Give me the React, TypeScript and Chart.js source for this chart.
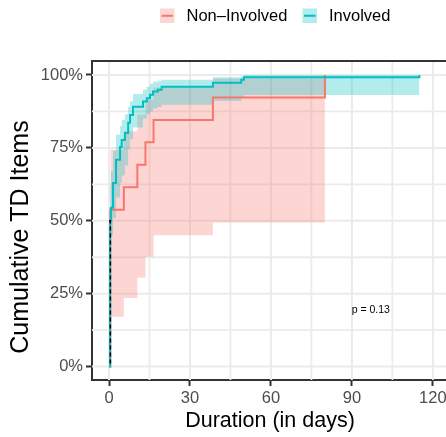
import React, { useEffect, useRef } from 'react';
import { Chart, registerables } from 'chart.js';
Chart.register(...registerables);

const FONT = '"Liberation Sans", Arial, Helvetica, sans-serif';
const RED = '#F8766D';
const TEAL = '#00BFC4';
const RED_FILL = 'rgba(248,118,109,0.3)';
const TEAL_FILL = 'rgba(0,191,196,0.3)';

const groupNames = ['Non–Involved', 'Involved'];
const xTitle = 'Duration (in days)';
const yTitle = 'Cumulative TD Items';
const pLabel = 'p = 0.13';
const pPos = [97, 19.2];

const xTicks = [0, 30, 60, 90, 120];
const xMinor = [15, 45, 75, 105];
const yTicks = [0, 25, 50, 75, 100];
const yMinor = [12.5, 37.5, 62.5, 87.5];

// Non-Involved group (cumulative % of items)
const redTimes = [0, 0.5, 5.5, 10.5, 13.5, 16.5, 38.5, 80];
const redCum = [0, 53.8, 61.5, 69.2, 76.9, 84.6, 92.3, 100];
const redBandTimes = [0.5, 5.5, 10.5, 13.5, 16.5, 38.5, 80];
const redLower = [17.1, 23.5, 30.5, 37.7, 45.0, 49.4, 49.4];
const redUpper = [74.4, 80.7, 86.4, 91.4, 95.7, 98.8, 98.8];

// Involved group
const tealTimes = [0, 0.4, 0.7, 1.5, 2.6, 4.1, 4.7, 5.9, 7.1, 7.8, 8.9, 12.6, 14, 15.2, 16.3, 18.1, 19.5, 38.5, 49, 50, 115];
const tealCum = [0, 50, 54.5, 63, 70.9, 75.3, 77.7, 80.1, 83.6, 86.3, 89.1, 90.9, 92, 93.2, 94.3, 94.9, 96, 97.3, 98.4, 99.2, 100];
const tealBandTimes = [0.4, 0.7, 1.5, 2.6, 4.1, 4.7, 5.9, 7.1, 7.8, 8.9, 12.6, 14, 15.2, 16.3, 18.1, 19.5, 38.5, 49, 50, 115];
const tealLower = [41, 45, 51, 58, 63, 65.5, 69, 74.5, 78, 82, 85, 86.5, 87.5, 88.5, 89, 89.8, 91.1, 92, 93.1, 93.1];
const tealUpper = [62, 67, 74, 79.5, 82.5, 84.6, 86.5, 89, 91, 93.5, 95, 96, 97, 97.7, 98, 98.4, 99.2, 99.6, 100, 100];

// median line
const medianTimes = [0, 0.5, 0.5];
const medianVals = [50, 50, 0];

const toPts = (xs: number[], ys: number[]) => xs.map((x, i) => ({ x, y: ys[i] }));

const decor = {
  id: 'decor',
  beforeDatasetsDraw(chart: any) {
    const { ctx, chartArea: a, scales } = chart;
    const x = scales.x, y = scales.y;
    ctx.save();
    ctx.beginPath();
    ctx.rect(a.left, a.top, a.right - a.left, a.bottom - a.top);
    ctx.clip();
    ctx.strokeStyle = '#EBEBEB';
    const vline = (v: number, w: number) => {
      const px = x.getPixelForValue(v);
      ctx.lineWidth = w;
      ctx.beginPath(); ctx.moveTo(px, a.top); ctx.lineTo(px, a.bottom); ctx.stroke();
    };
    const hline = (v: number, w: number) => {
      const py = y.getPixelForValue(v);
      ctx.lineWidth = w;
      ctx.beginPath(); ctx.moveTo(a.left, py); ctx.lineTo(a.right, py); ctx.stroke();
    };
    xMinor.forEach(v => vline(v, 1.8));
    yMinor.forEach(v => hline(v, 1.8));
    xTicks.forEach(v => vline(v, 2));
    yTicks.forEach(v => hline(v, 2));
    ctx.restore();
  },
  afterDraw(chart: any) {
    const { ctx, chartArea: a, scales } = chart;
    ctx.save();
    // top border
    ctx.strokeStyle = '#333';
    ctx.lineWidth = 2;
    ctx.beginPath(); ctx.moveTo(a.left - 1, a.top); ctx.lineTo(a.right, a.top); ctx.stroke();

    // axis titles
    ctx.fillStyle = '#000';
    ctx.textAlign = 'center';
    ctx.textBaseline = 'middle';
    ctx.font = `21.5px ${FONT}`;
    ctx.fillText(xTitle, (a.left + a.right) / 2, 421.5);
    ctx.save();
    ctx.translate(21.5, 237);
    ctx.rotate(-Math.PI / 2);
    ctx.font = `25px ${FONT}`;
    ctx.fillText(yTitle, 0, 0);
    ctx.restore();

    // p-value
    ctx.font = `10.5px ${FONT}`;
    ctx.fillText(pLabel, scales.x.getPixelForValue(pPos[0]), scales.y.getPixelForValue(pPos[1]));

    // legend
    const items = [
      { name: groupNames[0], line: RED, fill: RED_FILL, x: 160 },
      { name: groupNames[1], line: TEAL, fill: TEAL_FILL, x: 302.5 },
    ];
    ctx.font = `16.5px ${FONT}`;
    ctx.textAlign = 'left';
    items.forEach(it => {
      ctx.fillStyle = it.fill;
      ctx.fillRect(it.x, 8.5, 14.5, 14.5);
      ctx.strokeStyle = it.line;
      ctx.lineWidth = 2;
      ctx.beginPath(); ctx.moveTo(it.x + 1.5, 15.75); ctx.lineTo(it.x + 13, 15.75); ctx.stroke();
      ctx.fillStyle = '#000';
      ctx.fillText(it.name, it.x + 26.5, 16.5);
    });
    ctx.restore();
  },
};

export default function App() {
  const ref = useRef<HTMLCanvasElement>(null);
  useEffect(() => {
    const canvas = ref.current!;
    const band = (xs: number[], ys: number[], fill: any, bg: string, order: number) => ({
      data: toPts(xs, ys), stepped: true, borderColor: 'transparent', borderWidth: 0,
      pointRadius: 0, fill, backgroundColor: bg, order,
    });
    const chart = new Chart(canvas, {
      type: 'line',
      data: {
        datasets: [
          band(redBandTimes, redUpper, '+1', RED_FILL, 20) as any,
          band(redBandTimes, redLower, false, 'transparent', 21),
          band(tealBandTimes, tealUpper, '+1', TEAL_FILL, 18),
          band(tealBandTimes, tealLower, false, 'transparent', 19),
          { label: groupNames[0], data: toPts(redTimes, redCum), stepped: true, borderColor: RED, borderWidth: 2, pointRadius: 0, fill: false, order: 10 },
          { label: groupNames[1], data: toPts(tealTimes, tealCum), stepped: true, borderColor: TEAL, borderWidth: 2, pointRadius: 0, fill: false, order: 9 },
          { label: 'median', data: toPts(medianTimes, medianVals), borderColor: '#000', borderWidth: 1.5, borderDash: [4, 3], pointRadius: 0, fill: false, order: 1 },
        ],
      },
      options: {
        animation: false,
        responsive: false,
        layout: { padding: { top: 61, right: 2, left: 0, bottom: 0 }, autoPadding: false } as any,
        plugins: { legend: { display: false }, tooltip: { enabled: false }, filler: { propagate: false } },
        scales: {
          x: {
            type: 'linear', min: -6.3, max: 125.6,
            afterBuildTicks: (s: any) => { s.ticks = xTicks.map(v => ({ value: v })); },
            afterFit: (s: any) => { s.height = 57; },
            ticks: { font: { family: FONT, size: 16.5 }, color: '#4D4D4D', padding: 3, maxRotation: 0, autoSkip: false, callback: (v: any) => String(v) },
            grid: { display: true, drawOnChartArea: false, drawTicks: true, tickLength: 6, tickColor: '#333', tickWidth: 2 } as any,
            border: { display: true, color: '#333', width: 2 },
          },
          y: {
            type: 'linear', min: -4.6, max: 104.8,
            afterBuildTicks: (s: any) => { s.ticks = yTicks.map(v => ({ value: v })); },
            afterFit: (s: any) => { s.width = 92; },
            ticks: { font: { family: FONT, size: 16.5 }, color: '#4D4D4D', padding: 3, autoSkip: false, callback: (v: any) => `${v}%` },
            grid: { display: true, drawOnChartArea: false, drawTicks: true, tickLength: 6, tickColor: '#333', tickWidth: 2 } as any,
            border: { display: true, color: '#333', width: 2 },
          },
        },
      },
      plugins: [decor],
    });
    return () => chart.destroy();
  }, []);
  return (
    <div style={{ position: 'absolute', left: 0, top: 0, width: 446, height: 437, overflow: 'hidden', background: '#fff' }}>
      <canvas ref={ref} width={450} height={437} style={{ display: 'block' }} />
    </div>
  );
}
